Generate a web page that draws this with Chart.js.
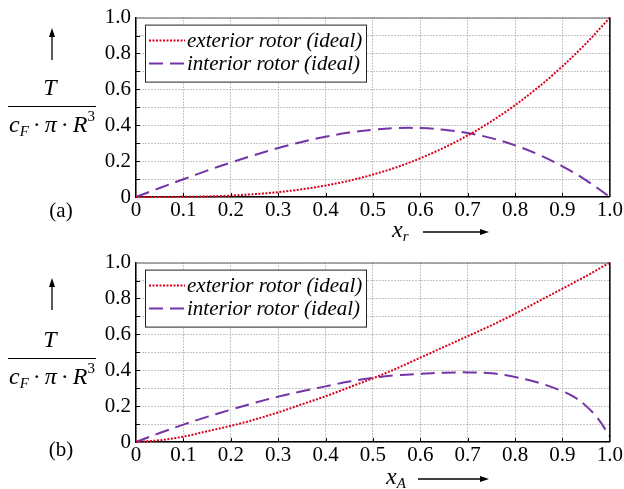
<!DOCTYPE html>
<html>
<head>
<meta charset="utf-8">
<script src="https://cdn.jsdelivr.net/npm/chart.js@4/dist/chart.umd.min.js"></script>
<style>
  html, body { margin: 0; padding: 0; background: #fff; }
  #wrap { position: relative; width: 624px; height: 489px; }
  canvas { position: absolute; left: 0; }
  #chartA { top: 0; }
  #chartB { top: 245px; }
</style>
</head>
<body>
<div id="wrap">
  <canvas id="chartA" width="624" height="245"></canvas>
  <canvas id="chartB" width="624" height="244"></canvas>
</div>
<script>
// data
const seriesNames = ["exterior rotor (ideal)", "interior rotor (ideal)"];
const xTickLabels = ["0", "0.1", "0.2", "0.3", "0.4", "0.5", "0.6", "0.7", "0.8", "0.9", "1.0"];
const yTickLabels = ["0", "", "0.2", "", "0.4", "", "0.6", "", "0.8", "", "1.0"];

// (a) over x_r
const xTop = [0, 0.05, 0.1, 0.15, 0.2, 0.25, 0.3, 0.35, 0.4, 0.45, 0.5, 0.55, 0.6, 0.65, 0.7, 0.75, 0.8, 0.85, 0.9, 0.95, 1.0];
const topExterior = [0, 0.0, 0.001, 0.003, 0.008, 0.016, 0.027, 0.043, 0.064, 0.091, 0.125, 0.166, 0.216, 0.275, 0.343, 0.422, 0.512, 0.614, 0.729, 0.857, 1.0];
const topInterior = [0, 0.05, 0.099, 0.147, 0.192, 0.234, 0.273, 0.307, 0.336, 0.359, 0.375, 0.384, 0.384, 0.375, 0.357, 0.328, 0.288, 0.236, 0.171, 0.093, 0];

// (b) over x_A
const xBottom = [0, 0.05, 0.1, 0.15, 0.2, 0.25, 0.3, 0.35, 0.4, 0.45, 0.5, 0.55, 0.6, 0.65, 0.7, 0.75, 0.8, 0.85, 0.9, 0.925, 0.95, 0.975, 1.0];
const bottomExterior = [0, 0.01, 0.03, 0.06, 0.09, 0.125, 0.165, 0.21, 0.255, 0.305, 0.355, 0.41, 0.47, 0.53, 0.59, 0.65, 0.715, 0.785, 0.855, 0.89, 0.925, 0.962, 1.0];
const bottomInterior = [0, 0.05, 0.097, 0.14, 0.18, 0.218, 0.253, 0.283, 0.31, 0.337, 0.358, 0.372, 0.38, 0.386, 0.388, 0.383, 0.362, 0.33, 0.283, 0.25, 0.2, 0.13, 0.03];

const SERIF = "'Liberation Serif', 'DejaVu Serif', serif";
const RED = "#d8001c";
const PURPLE = "#7434a8";

function pts(xs, ys) {
    return xs.map((x, i) => ({ x: x, y: ys[i] }));
}

function tickLabel(list, v) {
    const i = Math.round(v * 10);
    return list[i] !== undefined ? list[i] : "";
}

// frame, inward ticks, legend and the side labels
const decorPlugin = {
    id: "decor",
    afterDatasetsDraw(chart, args, o) {
        const ctx = chart.ctx;
        const a = chart.chartArea;
        const xs = chart.scales.x, ys = chart.scales.y;
        ctx.save();

        // top & right border
        ctx.setLineDash([]);
        ctx.strokeStyle = "#666";
        ctx.lineWidth = 1;
        ctx.beginPath();
        ctx.moveTo(a.left, a.top + 0.5);
        ctx.lineTo(a.right, a.top + 0.5);
        ctx.stroke();
        ctx.strokeStyle = "#000";
        ctx.lineWidth = 1.5;
        ctx.beginPath();
        ctx.moveTo(a.right, a.top);
        ctx.lineTo(a.right, a.bottom);
        ctx.stroke();

        // small inward ticks
        ctx.lineWidth = 1;
        ctx.strokeStyle = "#000";
        for (let i = 1; i < 10; i++) {
            const py = Math.round(ys.getPixelForValue(i / 10)) + 0.5;
            const px = Math.round(xs.getPixelForValue(i / 10)) + 0.5;
            ctx.beginPath();
            ctx.moveTo(a.left, py); ctx.lineTo(a.left + 4, py);
            ctx.moveTo(px, a.bottom); ctx.lineTo(px, a.bottom - 4);
            ctx.stroke();
        }

        // legend box
        const lx = a.left + 9, ly = a.top + 7, lw = 221, lh = 57;
        ctx.fillStyle = "#fff";
        ctx.fillRect(lx, ly, lw, lh);
        ctx.strokeStyle = "#222";
        ctx.lineWidth = 1;
        ctx.strokeRect(lx + 0.5, ly + 0.5, lw, lh);
        ctx.font = "italic 21px " + SERIF;
        ctx.textBaseline = "middle";
        ctx.textAlign = "left";
        chart.data.datasets.forEach((ds, i) => {
            const yy = ly + 16 + i * 23;
            ctx.strokeStyle = ds.borderColor;
            ctx.lineWidth = ds.borderWidth;
            ctx.setLineDash(ds.borderDash);
            ctx.beginPath();
            ctx.moveTo(lx + 4, yy);
            ctx.lineTo(lx + 40, yy);
            ctx.stroke();
            ctx.setLineDash([]);
            ctx.fillStyle = "#000";
            ctx.fillText(ds.label, lx + 42, yy + 1);
        });

        // y label: arrow + fraction
        const cx = 52;
        ctx.strokeStyle = "#000";
        ctx.fillStyle = "#000";
        ctx.lineWidth = 1.3;
        ctx.beginPath();
        ctx.moveTo(cx, o.arrowTop + 6);
        ctx.lineTo(cx, o.arrowTop + 32);
        ctx.stroke();
        ctx.beginPath();
        ctx.moveTo(cx, o.arrowTop);
        ctx.lineTo(cx - 3, o.arrowTop + 9);
        ctx.lineTo(cx + 3, o.arrowTop + 9);
        ctx.closePath();
        ctx.fill();

        ctx.textAlign = "center";
        ctx.font = "italic 24px " + SERIF;
        ctx.fillText("T", cx - 2, o.barY - 17);
        ctx.lineWidth = 1.2;
        ctx.beginPath();
        ctx.moveTo(8, o.barY + 0.5);
        ctx.lineTo(96, o.barY + 0.5);
        ctx.stroke();

        // denominator c_F · π · R^3
        const dy = o.barY + 20;
        ctx.textAlign = "left";
        let x = 9;
        const put = (t, font, dyOff) => {
            ctx.font = font;
            ctx.fillText(t, x, dy + (dyOff || 0));
            x += ctx.measureText(t).width;
        };
        put("c", "italic 24px " + SERIF);
        put("F", "italic 15px " + SERIF, 6);
        x += 4;
        put("·", "24px " + SERIF);
        x += 4;
        put("π", "italic 24px " + SERIF);
        x += 4;
        put("·", "24px " + SERIF);
        x += 4;
        put("R", "italic 24px " + SERIF);
        put("3", "15px " + SERIF, -9);

        // panel tag
        ctx.font = "21px " + SERIF;
        ctx.textAlign = "center";
        ctx.fillText(o.tag, 61, o.tagY);

        // x label with arrow
        ctx.font = "italic 24px " + SERIF;
        ctx.textAlign = "left";
        ctx.fillText("x", o.xLabX, o.xLabY);
        const xw = ctx.measureText("x").width;
        ctx.font = "italic 15px " + SERIF;
        ctx.fillText(o.xSub, o.xLabX + xw, o.xLabY + 6);
        ctx.lineWidth = 1.3;
        ctx.beginPath();
        ctx.moveTo(o.xArrowFrom, o.xLabY + 1);
        ctx.lineTo(o.xArrowTo - 8, o.xLabY + 1);
        ctx.stroke();
        ctx.beginPath();
        ctx.moveTo(o.xArrowTo, o.xLabY + 1);
        ctx.lineTo(o.xArrowTo - 9, o.xLabY - 2);
        ctx.lineTo(o.xArrowTo - 9, o.xLabY + 4);
        ctx.closePath();
        ctx.fill();

        ctx.restore();
    }
};

function makeChart(id, xs, ext, inn, deco) {
    const ctx = document.getElementById(id).getContext("2d");
    return new Chart(ctx, {
        type: "line",
        data: {
            datasets: [{
                label: seriesNames[0],
                data: pts(xs, ext),
                borderColor: RED,
                borderWidth: 2,
                borderDash: [2, 1.5],
                pointRadius: 0,
                cubicInterpolationMode: "monotone",
                fill: false
            }, {
                label: seriesNames[1],
                data: pts(xs, inn),
                borderColor: PURPLE,
                borderWidth: 2,
                borderDash: [14, 7],
                pointRadius: 0,
                tension: 0.4,
                fill: false
            }]
        },
        options: {
            responsive: false,
            animation: false,
            clip: false,
            layout: { padding: { left: 0, right: 12, top: 11, bottom: 0 } },
            plugins: {
                legend: { display: false },
                tooltip: { enabled: false },
                decor: deco
            },
            scales: {
                x: {
                    type: "linear",
                    min: 0,
                    max: 1,
                    afterFit: s => { s.height = deco.xAxisH; },
                    ticks: {
                        stepSize: 0.1,
                        padding: 1,
                        color: "#000",
                        font: { family: SERIF, size: 21 },
                        maxRotation: 0,
                        autoSkip: false,
                        callback: v => tickLabel(xTickLabels, v)
                    },
                    grid: { color: "#8c8c8c", lineWidth: 1, drawTicks: false },
                    border: { display: true, color: "#000", width: 1.5, dash: [1, 2] }
                },
                y: {
                    type: "linear",
                    min: 0,
                    max: 1,
                    afterFit: s => { s.width = 136; },
                    ticks: {
                        stepSize: 0.1,
                        padding: 5,
                        color: "#000",
                        font: { family: SERIF, size: 21 },
                        autoSkip: false,
                        callback: v => tickLabel(yTickLabels, v)
                    },
                    grid: { color: "#8c8c8c", lineWidth: 1, drawTicks: false },
                    border: { display: true, color: "#000", width: 1.5, dash: [1, 2] }
                }
            }
        },
        plugins: [decorPlugin]
    });
}

makeChart("chartA", xTop, topExterior, topInterior, {
    xAxisH: 48, arrowTop: 28, barY: 106, tag: "(a)", tagY: 211,
    xSub: "r", xLabX: 392, xLabY: 231, xArrowFrom: 423, xArrowTo: 489
});
makeChart("chartB", xBottom, bottomExterior, bottomInterior, {
    xAxisH: 47, arrowTop: 33, barY: 113, tag: "(b)", tagY: 205,
    xSub: "A", xLabX: 386, xLabY: 233, xArrowFrom: 418, xArrowTo: 489
});
</script>
</body>
</html>
